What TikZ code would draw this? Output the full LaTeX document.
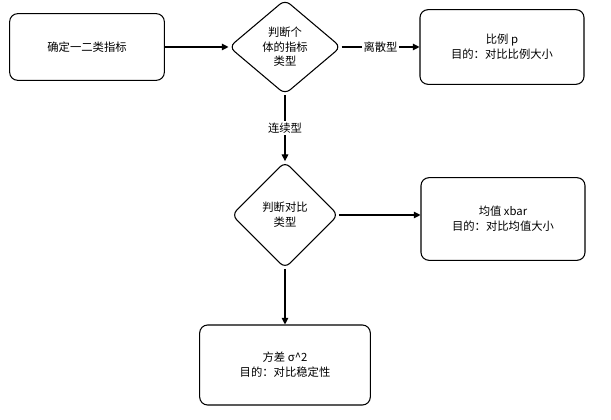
\documentclass[tikz,border=0pt]{standalone}
\usepackage{fontspec}
\setmainfont{Noto Sans CJK SC}
\usetikzlibrary{arrows.meta,positioning,shapes.geometric}
\begin{document}
\begin{tikzpicture}[x=0.75pt,y=-0.75pt,font=\fontsize{8.5}{11}\selectfont,
  box/.style={draw,rounded corners=6pt,align=center,thick},
  dia/.style={draw,diamond,rounded corners=5pt,align=center,inner sep=0pt,thick},
  arr/.style={-{Triangle[length=5pt,width=5pt]},thick}]
\useasboundingbox (0,0) rectangle (611,420);
\node[box,minimum width=116pt,minimum height=50pt] (kind) at (87,47) {确定一二类指标};
\node[dia,minimum width=84pt,minimum height=71pt] (judge) at (285,47) {判断个\\体的指标\\类型};
\node[box,minimum width=123pt,minimum height=56pt] (prop) at (502,47) {比例 p\\目的：对比比例大小};
\node[dia,minimum width=80pt,minimum height=80pt] (cmp) at (285,215) {判断对比\\类型};
\node[box,minimum width=123pt,minimum height=62pt] (mean) at (503,219) {均值 xbar\\目的：对比均值大小};
\node[box,minimum width=128pt,minimum height=60pt] (var) at (285,365) {方差 σ\^{}2\\目的：对比稳定性};
\draw[arr] (kind) -- (judge);
\draw[arr] (judge) -- node[fill=white,inner sep=1pt] {离散型} (prop);
\draw[arr] (judge) -- node[fill=white,inner sep=1pt] {连续型} (cmp);
\draw[arr] (cmp) -- (mean.west |- cmp);
\draw[arr] (cmp) -- (var);
\end{tikzpicture}
\end{document}
